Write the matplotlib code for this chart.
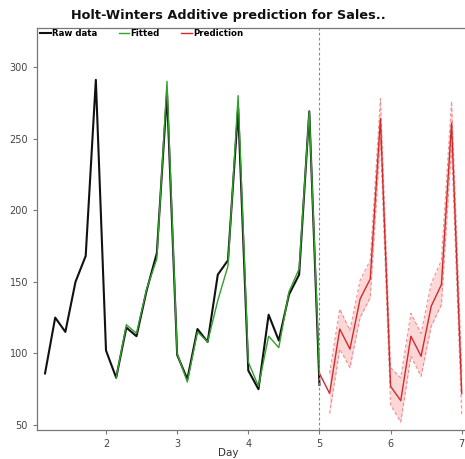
import matplotlib
matplotlib.use("Agg")
import matplotlib.pyplot as plt
import numpy as np

# Observed sales, 7 observations per day
raw_x = [1 + i / 7 for i in range(1, 29)]
raw_y = [86, 125, 115, 150, 168, 291, 102,
         83, 118, 112, 144, 170, 282, 99,
         82, 117, 108, 155, 165, 271, 88,
         75, 127, 109, 141, 155, 269, 78]

# Holt-Winters fitted values (first season used for initialisation)
fit_x = [1 + i / 7 for i in range(8, 29)]
fit_y = [83, 120, 114, 145, 166, 290, 100,
         80, 115, 108, 137, 161, 280, 94,
         77, 112, 104, 143, 159, 269, 86]

# Forecast, starting from the last fitted value
pred_x = [1 + i / 7 for i in range(28, 43)]
pred_y = [86, 72, 117, 103, 138, 152, 264,
          77, 67, 112, 98, 133, 148, 261, 72]

# Prediction interval
band_x = [1 + i / 7 for i in range(29, 43)]
band_lo = [58, 103, 90, 125, 139, 250, 64,
           52, 98, 84, 119, 134, 245, 57]
band_hi = [86, 131, 116, 151, 165, 278, 90,
           83, 128, 114, 149, 165, 276, 87]

x_ticks = [2, 3, 4, 5, 6, 7]
y_ticks = [50, 100, 150, 200, 250, 300]
split_x = 5

fig = plt.figure(figsize=(4.65, 4.59), dpi=100)
ax = fig.add_axes([37 / 465, 29 / 459, 429 / 465, 402 / 459])

ax.fill_between(band_x, band_lo, band_hi, color="#f7a8a8", alpha=0.45, lw=0)
ax.plot(band_x, band_lo, color="#ee7777", lw=0.8, ls=(0, (3, 2)), alpha=0.8)
ax.plot(band_x, band_hi, color="#ee7777", lw=0.8, ls=(0, (3, 2)), alpha=0.8)

ax.plot(raw_x, raw_y, color="#111111", lw=1.5, label="Raw data")
ax.plot(fit_x, fit_y, color="#33a02c", lw=1.0, label="Fitted")
ax.plot(pred_x, pred_y, color="#d42a2a", lw=1.0, label="Prediction")

ax.axvline(split_x, color="#888888", lw=0.8, ls=(0, (2.5, 2)))

ax.set_xlim(1.03, 7.06)
ax.set_ylim(46.5, 327.2)
ax.set_xticks(x_ticks)
ax.set_yticks(y_ticks)

for side in ("left", "bottom", "top"):
    ax.spines[side].set_color("#777777")
    ax.spines[side].set_linewidth(0.9)
ax.spines["right"].set_visible(False)
ax.tick_params(axis="both", colors="#777777", labelcolor="#444444",
               labelsize=7, length=3, width=0.8, direction="out")

ax.set_xlabel("Day", fontsize=7.5, color="#333333", labelpad=2)
ax.xaxis.set_label_coords((228 - 37) / 429, -0.045)

fig.text(228 / 465, 1 - 15 / 459, "Holt-Winters Additive prediction for Sales..",
         ha="center", va="center", fontsize=9.3, fontweight="bold", color="#111111")

leg = ax.legend(loc="upper left", ncol=3, frameon=False,
                prop={"size": 6.2, "weight": "bold"},
                handlelength=1.2, handletextpad=0.15, columnspacing=2.5,
                borderaxespad=0.0, bbox_to_anchor=(0.0, 1.005))

fig.savefig("out.png", dpi=100)
